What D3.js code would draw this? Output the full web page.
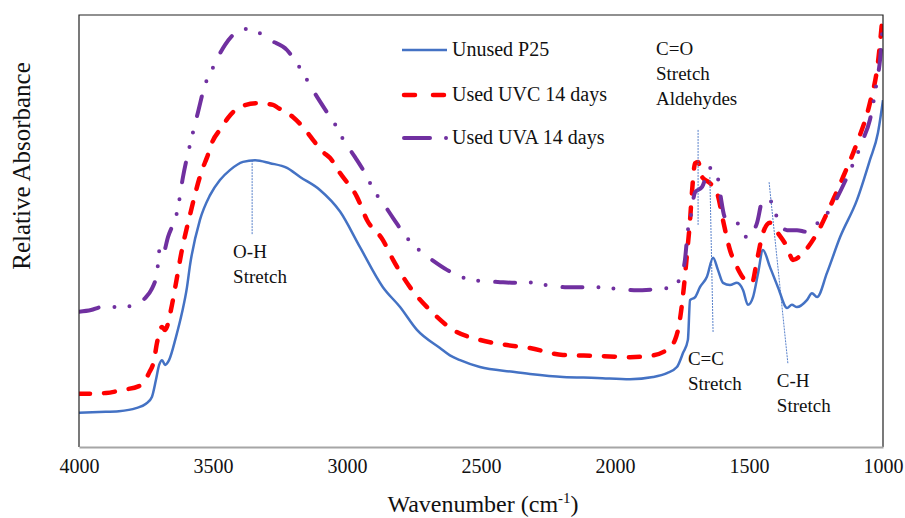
<!DOCTYPE html>
<html lang="en">
<head>
<meta charset="UTF-8">
<title>FTIR spectra</title>
<script src="https://d3js.org/d3.v7.min.js"></script>
<style>
body { margin: 0; background: white; }
text { font-family: "Liberation Serif", "Times New Roman", serif; fill: #111; }
</style>
</head>
<body>
<div id="chart"></div>
<script>
// [wavenumber cm-1, relative absorbance]
var unusedP25 = [[4000,0.079],[3925,0.081],[3851,0.083],[3787,0.090],[3750,0.100],[3728,0.116],[3713,0.155],
  [3701,0.190],[3690,0.201],[3679,0.190],[3664,0.201],[3638,0.255],[3616,0.310],[3597,0.370],[3586,0.420],
  [3549,0.525],[3511,0.583],[3474,0.618],[3437,0.641],[3388,0.660],[3343,0.664],[3287,0.657],[3224,0.646],
  [3175,0.625],[3101,0.595],[3026,0.545],[2951,0.462],[2866,0.370],[2802,0.324],[2739,0.271],[2653,0.229],
  [2616,0.212],[2578,0.201],[2504,0.185],[2381,0.174],[2317,0.169],[2194,0.162],[2067,0.160],[1944,0.157],
  [1858,0.162],[1806,0.171],[1769,0.185],[1746,0.218],[1728,0.248],[1720,0.340],[1701,0.347],[1683,0.370],
  [1657,0.394],[1634,0.438],[1616,0.410],[1597,0.380],[1571,0.375],[1545,0.380],[1522,0.363],[1504,0.329],
  [1485,0.347],[1466,0.403],[1448,0.456],[1422,0.417],[1392,0.370],[1358,0.322],[1340,0.329],[1321,0.324],
  [1284,0.340],[1265,0.356],[1246,0.347],[1209,0.403],[1160,0.486],[1097,0.572],[1049,0.664],[1019,0.727],
  [1000,0.803]];

var usedUVC = [[4000,0.123],[3899,0.125],[3840,0.132],[3776,0.141],[3739,0.171],[3720,0.201],[3709,0.241],
  [3690,0.278],[3679,0.271],[3672,0.278],[3657,0.317],[3638,0.380],[3616,0.456],[3586,0.537],[3541,0.641],
  [3522,0.671],[3504,0.704],[3466,0.741],[3444,0.762],[3399,0.787],[3336,0.796],[3276,0.792],[3257,0.785],
  [3202,0.764],[3149,0.729],[3127,0.711],[3090,0.683],[3063,0.669],[3026,0.634],[2963,0.579],[2925,0.525],
  [2866,0.479],[2828,0.433],[2765,0.370],[2679,0.310],[2604,0.271],[2504,0.248],[2403,0.236],[2317,0.229],
  [2194,0.213],[2067,0.211],[1944,0.208],[1869,0.211],[1806,0.225],[1776,0.248],[1758,0.294],[1743,0.370],
  [1731,0.449],[1720,0.525],[1713,0.588],[1701,0.657],[1690,0.660],[1675,0.625],[1646,0.611],[1619,0.588],
  [1597,0.525],[1571,0.456],[1545,0.417],[1515,0.387],[1489,0.380],[1470,0.433],[1448,0.495],[1422,0.519],
  [1392,0.495],[1358,0.463],[1336,0.433],[1299,0.449],[1246,0.495],[1198,0.556],[1149,0.625],[1097,0.704],
  [1049,0.796],[1019,0.889],[1000,1.010]];

var usedUVA = [[4000,0.313],[3955,0.317],[3914,0.324],[3877,0.324],[3813,0.326],[3776,0.333],[3750,0.347],
  [3731,0.363],[3709,0.403],[3698,0.461],[3687,0.447],[3668,0.486],[3631,0.553],[3612,0.625],[3586,0.699],
  [3556,0.775],[3530,0.838],[3504,0.873],[3481,0.903],[3455,0.931],[3410,0.961],[3369,0.968],[3325,0.958],
  [3287,0.942],[3224,0.919],[3190,0.891],[3160,0.861],[3127,0.826],[3075,0.775],[3041,0.743],[3015,0.713],
  [2970,0.671],[2933,0.634],[2896,0.590],[2866,0.565],[2828,0.530],[2776,0.484],[2728,0.454],[2683,0.433],
  [2627,0.410],[2552,0.389],[2493,0.384],[2437,0.382],[2373,0.380],[2343,0.384],[2306,0.380],[2239,0.373],
  [2187,0.370],[2082,0.370],[1985,0.366],[1929,0.363],[1832,0.366],[1787,0.370],[1757,0.391],[1739,0.433],
  [1728,0.502],[1720,0.525],[1701,0.590],[1675,0.602],[1646,0.646],[1619,0.630],[1608,0.588],[1590,0.532],
  [1571,0.525],[1545,0.519],[1504,0.484],[1470,0.519],[1448,0.572],[1414,0.567],[1396,0.532],[1358,0.502],
  [1321,0.502],[1284,0.498],[1243,0.519],[1198,0.549],[1134,0.625],[1075,0.711],[1049,0.757],[1022,0.850],
  [1011,0.896],[1000,0.990]];

var xTicks = [4000, 3500, 3000, 2500, 2000, 1500, 1000];
var seriesNames = ["Unused P25", "Used UVC 14 days", "Used UVA 14 days"];

// band labels: leader line (two points) and text lines at a wavenumber / absorbance
var bandLabels = [
  {lines: ["O-H", "Stretch"], at: [3425, 0.4375], lead: [[3354, 0.664], [3354, 0.491]]},
  {lines: ["C=O", "Stretch", "Aldehydes"], at: [1847, 0.907], lead: [[1690, 0.734], [1690, 0.514]]},
  {lines: ["C=C", "Stretch"], at: [1728, 0.190], lead: [[1646, 0.625], [1634, 0.264]]},
  {lines: ["C-H", "Stretch"], at: [1396, 0.139], lead: [[1425, 0.613], [1355, 0.194]]}
];

var W = 905, H = 518;
var margin = {top: 15, right: 22, bottom: 71, left: 79};

var svg = d3.select("#chart").append("svg")
  .attr("width", W).attr("height", H);

var x = d3.scaleLinear().domain([4000, 1000]).range([margin.left, W - margin.right]);
var y = d3.scaleLinear().domain([0, 1]).range([H - margin.bottom, margin.top]);

svg.append("clipPath").attr("id", "plotclip")
  .append("rect")
    .attr("x", margin.left).attr("y", margin.top)
    .attr("width", W - margin.left - margin.right)
    .attr("height", H - margin.top - margin.bottom);

var styles = [
  {color: "#4472C4", width: 2.5, dash: null, cap: "butt"},
  {color: "#FF0000", width: 4.5, dash: "11,14", cap: "round"},
  {color: "#7030A0", width: 4, dash: "20,16,0,15,0,17", cap: "round"}
];

var line = d3.line()
  .x(function(d) { return x(d[0]); })
  .y(function(d) { return y(d[1]); })
  .curve(d3.curveMonotoneX);

var plot = svg.append("g").attr("clip-path", "url(#plotclip)");

[unusedP25, usedUVC, usedUVA].forEach(function(s, i) {
  plot.append("path")
    .datum(s)
    .attr("d", line)
    .attr("fill", "none")
    .attr("stroke", styles[i].color)
    .attr("stroke-width", styles[i].width)
    .attr("stroke-linecap", styles[i].cap)
    .attr("stroke-linejoin", "round")
    .attr("stroke-dasharray", styles[i].dash);
});

// band leader lines and labels
bandLabels.forEach(function(b) {
  svg.append("line")
    .attr("x1", x(b.lead[0][0])).attr("y1", y(b.lead[0][1]))
    .attr("x2", x(b.lead[1][0])).attr("y2", y(b.lead[1][1]))
    .attr("stroke", "#4472C4").attr("stroke-width", 0.9)
    .attr("stroke-dasharray", "2,1");
  var t = svg.append("text")
    .attr("x", x(b.at[0])).attr("y", y(b.at[1]))
    .style("font-size", "19px");
  b.lines.forEach(function(l, k) {
    t.append("tspan").attr("x", x(b.at[0])).attr("dy", k == 0 ? 0 : 25).text(l);
  });
});

// frame
svg.append("path")
  .attr("d", "M" + x(4000) + "," + y(0) + "V" + y(1) + "H" + x(1000) + "V" + y(0))
  .attr("fill", "none").attr("stroke", "#222").attr("stroke-width", 1.2);

// x axis
var xAxis = svg.append("g")
  .attr("transform", "translate(0," + y(0) + ")")
  .call(d3.axisBottom(x).tickValues(xTicks).tickSize(0).tickPadding(12).tickFormat(d3.format("d")));
xAxis.select(".domain").attr("stroke", "#a6a6a6").attr("stroke-width", 2);
xAxis.selectAll("text")
  .style("font-family", '"Liberation Serif", serif')
  .style("font-size", "20px").attr("fill", "#111");

// axis titles
var xt = svg.append("text")
  .attr("x", (x(4000) + x(1000)) / 2 + 2).attr("y", 512)
  .attr("text-anchor", "middle")
  .style("font-size", "24px");
xt.append("tspan").text("Wavenumber (cm");
xt.append("tspan").attr("dy", -9).style("font-size", "15px").text("-1");
xt.append("tspan").attr("dy", 9).text(")");

svg.append("text")
  .attr("transform", "translate(30,166) rotate(-90)")
  .attr("text-anchor", "middle")
  .style("font-size", "25px")
  .text("Relative Absorbance");

// legend
var legend = svg.append("g");
var legendY = [50, 95, 138];
seriesNames.forEach(function(n, i) {
  var g = legend.append("g").attr("transform", "translate(0," + legendY[i] + ")");
  g.append("line")
    .attr("x1", i == 0 ? 402 : 404).attr("x2", 447)
    .attr("stroke", styles[i].color)
    .attr("stroke-width", styles[i].width)
    .attr("stroke-linecap", styles[i].cap)
    .attr("stroke-dasharray", i == 1 ? "11,18" : i == 2 ? "26,16,0,40" : null);
  g.append("text").attr("x", 452).attr("y", 6)
    .style("font-size", "20px").text(n);
});
</script>
</body>
</html>
